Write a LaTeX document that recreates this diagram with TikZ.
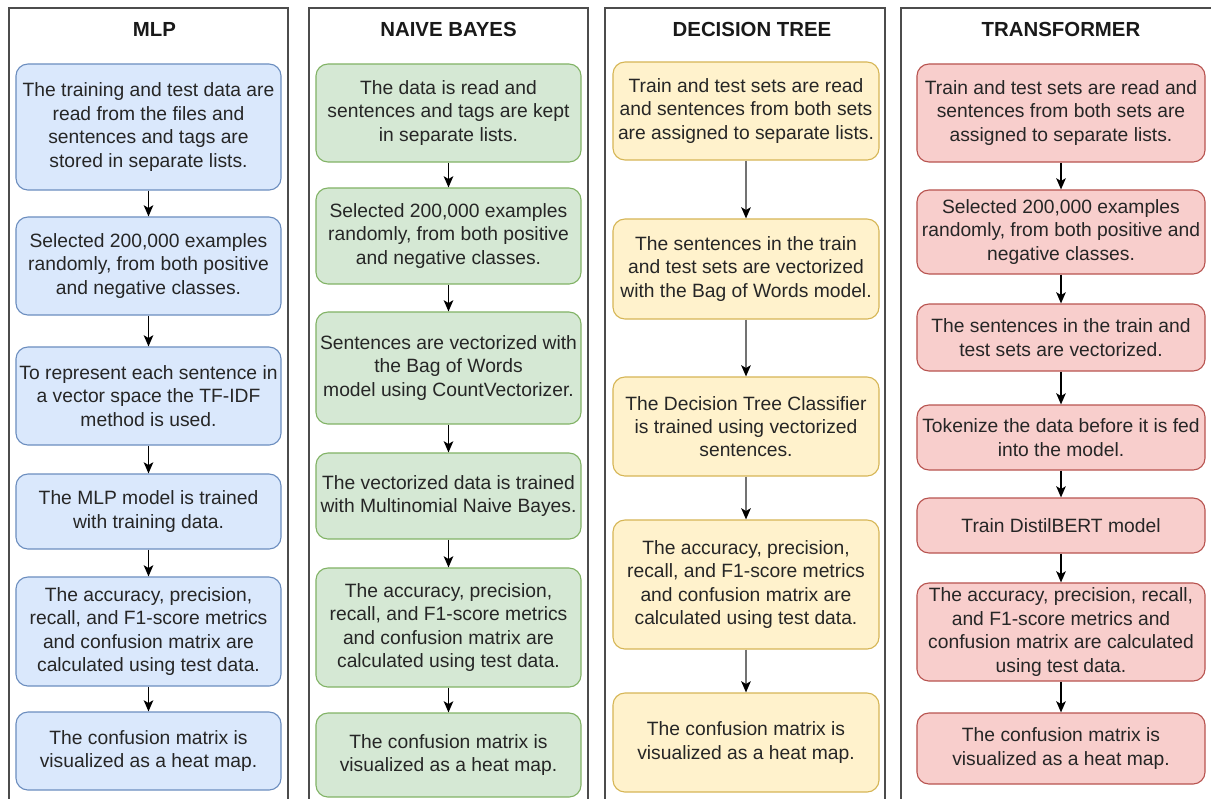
\documentclass[tikz,border=0pt]{standalone}
\usepackage{fontspec}
\setmainfont{Liberation Sans}
\usepackage{tikz}
\usetikzlibrary{calc}
\usetikzlibrary{arrows.meta}
\usepackage{xcolor}
\definecolor{mlpFill}{HTML}{DAE8FC}
\definecolor{mlpLine}{HTML}{6C8EBF}
\definecolor{nbFill}{HTML}{D5E8D4}
\definecolor{nbLine}{HTML}{82B366}
\definecolor{dtFill}{HTML}{FFF2CC}
\definecolor{dtLine}{HTML}{D6B656}
\definecolor{tfFill}{HTML}{F8CECC}
\definecolor{tfLine}{HTML}{B85450}
\tikzset{
  stepbox/.style={rectangle, rounded corners=0.3cm, line width=0.8pt, align=center,
    inner sep=1pt, text=black!85, font=\fontsize{13.7}{16.6}\selectfont},
  mlpbox/.style={stepbox, draw=mlpLine, fill=mlpFill, minimum width=6.625cm},
  nbbox/.style={stepbox, draw=nbLine, fill=nbFill, minimum width=6.625cm},
  dtbox/.style={stepbox, draw=dtLine, fill=dtFill, minimum width=6.65cm},
  tfbox/.style={stepbox, draw=tfLine, fill=tfFill, minimum width=7.2cm},
  flow/.style={line width=1pt, -{Stealth[length=0.28cm, width=0.24cm, inset=0.07cm]}},
  dtflow/.style={flow, draw=black!55, -{Stealth[length=0.28cm, width=0.24cm, inset=0.07cm, color=black]}},
  frame/.style={draw=black!70, line width=1.3pt},
  coltitle/.style={anchor=base, text=black!90, font=\fontsize{14.5}{17}\selectfont\bfseries},
}

\begin{document}
\begin{tikzpicture}[x=0.025cm, y=-0.025cm]

%%%%%%%%%%%%%%%%%%%%%%%%%%%%%%%%%%%%%%%%%%%%%%%%%%%%%%%%%%%%%% Setup
\useasboundingbox (0,0) rectangle (1211,798);
\coordinate (C1) at (148.5, 0);
\coordinate (C2) at (448.5, 0);
\coordinate (C3) at (746, 0);
\coordinate (C4) at (1061, 0);

% column frames (open at the bottom)
\draw[frame] (9,810) -- (9,8) -- (288,8) -- (288,810);
\draw[frame] (309,810) -- (309,8) -- (588,8) -- (588,810);
\draw[frame] (605,810) -- (605,8) -- (885,8) -- (885,810);
\draw[frame] (901,810) -- (901,8) -- (1220,8);

%%%%%%%%%%%%%%%%%%%%%%%%%%%%%%%%%%%%%%%%%%%%%%%%%%%%%%%%%%%%%% MLP
\node[coltitle] (mlpT) at ($(C1)+(6,36)$) {MLP};

\node[mlpbox, minimum height=3.15cm] (mlp1) at ($(C1)+(0,127)$)
  {The training and test data are\\read from the files and\\sentences and tags are\\stored in separate lists.};
\node[mlpbox, minimum height=2.45cm] (mlp2) at ($(C1)+(0,266)$)
  {Selected 200,000 examples\\randomly, from both positive\\and negative classes.};
\node[mlpbox, minimum height=2.45cm] (mlp3) at ($(C1)+(0,396)$)
  {To represent each sentence in\\a vector space the TF-IDF\\method is used.};
\node[mlpbox, minimum height=1.875cm] (mlp4) at ($(C1)+(0,511.5)$)
  {The MLP model is trained\\with training data.};
\node[mlpbox, minimum height=2.725cm] (mlp5) at ($(C1)+(0,631.5)$)
  {The accuracy, precision,\\recall, and F1-score metrics\\and confusion matrix are\\calculated using test data.};
\node[mlpbox, minimum height=1.95cm] (mlp6) at ($(C1)+(0,751)$)
  {The confusion matrix is\\visualized as a heat map.};

%%%%%%%%%%%%%%%%%%%%%%%%%%%%%%%%%%%%%%%%%%%%%%%%%%%%%%%%%%%%%% Naive Bayes
\node[coltitle] (nbT) at ($(C2)+(0,36)$) {NAIVE BAYES};

\node[nbbox, minimum height=2.45cm] (nb1) at ($(C2)+(0,113)$)
  {The data is read and\\sentences and tags are kept\\in separate lists.};
\node[nbbox, minimum height=2.4cm] (nb2) at ($(C2)+(0,236)$)
  {Selected 200,000 examples\\randomly, from both positive\\and negative classes.};
\node[nbbox, minimum height=2.8cm] (nb3) at ($(C2)+(0,368)$)
  {Sentences are vectorized with\\the Bag of Words\\model using CountVectorizer.};
\node[nbbox, minimum height=2.15cm] (nb4) at ($(C2)+(0,496)$)
  {The vectorized data is trained\\with Multinomial Naive Bayes.};
\node[nbbox, minimum height=2.975cm] (nb5) at ($(C2)+(0,627.5)$)
  {The accuracy, precision,\\recall, and F1-score metrics\\and confusion matrix are\\calculated using test data.};
\node[nbbox, minimum height=2.1cm] (nb6) at ($(C2)+(0,755)$)
  {The confusion matrix is\\visualized as a heat map.};

%%%%%%%%%%%%%%%%%%%%%%%%%%%%%%%%%%%%%%%%%%%%%%%%%%%%%%%%%%%%%% Decision Tree
\node[coltitle] (dtT) at ($(C3)+(6,36)$) {DECISION TREE};

\node[dtbox, minimum height=2.45cm] (dt1) at ($(C3)+(0,111)$)
  {Train and test sets are read\\and sentences from both sets\\are assigned to separate lists.};
\node[dtbox, minimum height=2.5cm] (dt2) at ($(C3)+(0,269)$)
  {The sentences in the train\\and test sets are vectorized\\with the Bag of Words model.};
\node[dtbox, minimum height=2.475cm] (dt3) at ($(C3)+(0,426.5)$)
  {The Decision Tree Classifier\\is trained using vectorized\\sentences.};
\node[dtbox, minimum height=3.225cm] (dt4) at ($(C3)+(0,584.5)$)
  {The accuracy, precision,\\recall, and F1-score metrics\\and confusion matrix are\\calculated using test data.};
\node[dtbox, minimum height=2.475cm] (dt5) at ($(C3)+(0,742.5)$)
  {The confusion matrix is\\visualized as a heat map.};

%%%%%%%%%%%%%%%%%%%%%%%%%%%%%%%%%%%%%%%%%%%%%%%%%%%%%%%%%%%%%% Transformer
\node[coltitle] (tfT) at ($(C4)+(0,36)$) {TRANSFORMER};

\node[tfbox, minimum height=2.45cm] (tf1) at ($(C4)+(0,113)$)
  {Train and test sets are read and\\sentences from both sets are\\assigned to separate lists.};
\node[tfbox, minimum height=2.1cm] (tf2) at ($(C4)+(0,232)$)
  {Selected 200,000 examples\\randomly, from both positive and\\negative classes.};
\node[tfbox, minimum height=1.675cm] (tf3) at ($(C4)+(0,337.5)$)
  {The sentences in the train and\\test sets are vectorized.};
\node[tfbox, minimum height=1.625cm] (tf4) at ($(C4)+(0,437.5)$)
  {Tokenize the data before it is fed\\into the model.};
\node[tfbox, minimum height=1.375cm] (tf5) at ($(C4)+(0,525.5)$)
  {Train DistilBERT model};
\node[tfbox, minimum height=2.45cm] (tf6) at ($(C4)+(0,632)$)
  {The accuracy, precision, recall,\\and F1-score metrics and\\confusion matrix are calculated\\using test data.};
\node[tfbox, minimum height=1.775cm] (tf7) at ($(C4)+(0,748.5)$)
  {The confusion matrix is\\visualized as a heat map.};

%%%%%%%%%%%%%%%%%%%%%%%%%%%%%%%%%%%%%%%%%%%%%%%%%%%%%%%%%%%%%% Arrows
\foreach \a/\b in {mlp1/mlp2, mlp2/mlp3, mlp3/mlp4, mlp4/mlp5, mlp5/mlp6,
                   nb1/nb2, nb2/nb3, nb3/nb4, nb4/nb5, nb5/nb6,
                   tf1/tf2, tf2/tf3, tf3/tf4, tf4/tf5, tf5/tf6, tf6/tf7}
  \draw[flow] (\a) -- (\b);
\foreach \a/\b in {dt1/dt2, dt2/dt3, dt3/dt4, dt4/dt5}
  \draw[dtflow] (\a) -- (\b);

\end{tikzpicture}
\end{document}
